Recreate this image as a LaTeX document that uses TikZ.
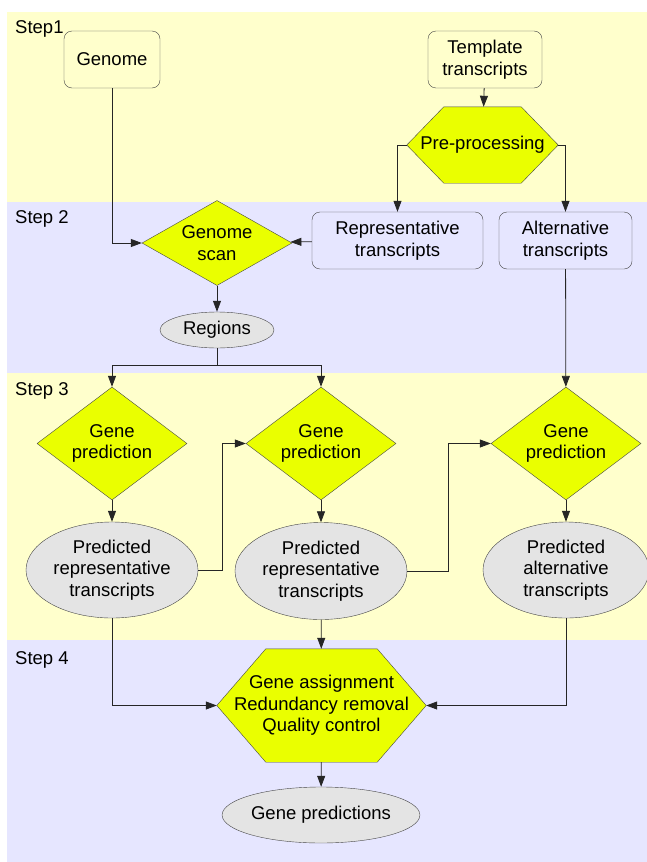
\documentclass[tikz,border=0pt]{standalone}
\usepackage{fontspec}
\setmainfont{Liberation Sans}
\usetikzlibrary{arrows.meta,%
                shapes.geometric}
\pgfdeclarelayer{bands}
\pgfdeclarelayer{shade}
\pgfsetlayers{bands,shade,main}
\definecolor{stepyellow}{RGB}{255,255,204}
\definecolor{steplilac}{RGB}{230,230,255}
\definecolor{actyellow}{RGB}{234,255,0}
\definecolor{datagrey}{RGB}{228,228,228}
\definecolor{edgegrey}{RGB}{70,70,70}
% hexagon behind a named node: \hexagon{node}{slant}
\newcommand{\hexagon}[2]{%
  \begin{pgfonlayer}{shade}
    \filldraw[draw=edgegrey,fill=actyellow] (#1.west) -- ([xshift=#2]#1.north west)
      -- ([xshift=-#2]#1.north east) -- (#1.east)
      -- ([xshift=-#2]#1.south east) -- ([xshift=#2]#1.south west) -- cycle;
  \end{pgfonlayer}}

\begin{document}
\begin{tikzpicture}[x=1pt,y=-1pt,font=\fontsize{18.5}{21.5}\selectfont]
  \tikzstyle{StepStyle}=[anchor=base west,inner sep=0pt]
  \tikzstyle{BoxStyle}=[draw=edgegrey,rounded corners=8pt,align=center,inner sep=0pt,minimum height=57pt]
  \tikzstyle{TestStyle}=[diamond,draw=edgegrey,fill=actyellow,align=center,inner sep=0pt,minimum width=150pt]
  \tikzstyle{HexStyle}=[rectangle,align=center,inner sep=0pt]
  \tikzstyle{DataStyle}=[ellipse,draw=edgegrey,fill=datagrey,align=center,inner sep=0pt]
  \tikzstyle{EdgeStyle}=[draw=black!85,line width=0.8pt,-{Triangle[length=11pt,width=8pt]}]
  \useasboundingbox (0,0) rectangle (647,862);
% bands
  \begin{pgfonlayer}{bands}
    \fill[stepyellow] (7,12) rectangle (647,202);
    \fill[steplilac] (7,202) rectangle (647,373);
    \fill[stepyellow] (7,373) rectangle (647,640);
    \fill[steplilac] (7,640) rectangle (647,862);
  \end{pgfonlayer}
  \node[StepStyle] (s1) at (15,33) {Step1};
  \node[StepStyle] (s2) at (15,223) {Step 2};
  \node[StepStyle] (s3) at (15,395) {Step 3};
  \node[StepStyle] (s4) at (15,664) {Step 4};
% step 1
  \node[BoxStyle,minimum width=96pt] (genome) at (112,59.5) {Genome};
  \node[BoxStyle,minimum width=114pt] (template) at (485,59.5) {Template\\transcripts};
  \node[HexStyle,minimum width=151pt,minimum height=76pt] (prep) at (482.5,145) {Pre-processing};
  \hexagon{prep}{37pt}
% step 2
  \node[BoxStyle,minimum width=171pt] (rep) at (397.5,240.5) {Representative\\transcripts};
  \node[BoxStyle,minimum width=133pt] (alt) at (565.5,240.5) {Alternative\\transcripts};
  \node[TestStyle,aspect=1.76,minimum height=85pt] (scan) at (217,243) {Genome\\scan};
  \node[DataStyle,minimum width=114pt,minimum height=36pt] (regions) at (217,330) {Regions};
  \coordinate (split) at (217,365);
% step 3
  \node[TestStyle,aspect=1.33,minimum height=113pt] (gp1) at (112,443.5) {Gene\\prediction};
  \node[TestStyle,aspect=1.33,minimum height=113pt] (gp2) at (321,443.5) {Gene\\prediction};
  \node[TestStyle,aspect=1.33,minimum height=113pt] (gp3) at (566,443.5) {Gene\\prediction};
  \node[DataStyle,minimum width=172pt,minimum height=96pt] (prt1) at (112,570) {Predicted\\representative\\transcripts};
  \node[DataStyle,minimum width=172pt,minimum height=97pt] (prt2) at (321,571) {Predicted\\representative\\transcripts};
  \node[DataStyle,minimum width=166pt,minimum height=96pt] (pat) at (566,570) {Predicted\\alternative\\transcripts};
% step 4
  \node[HexStyle,minimum width=209pt,minimum height=113pt] (final) at (321.5,705.5) {Gene assignment\\Redundancy removal\\Quality control};
  \hexagon{final}{49pt}
  \node[DataStyle,minimum width=172pt,minimum height=56pt] (genepred) at (321,815) {Gene predictions};
% edges
  \draw[EdgeStyle] (genome) |- (scan);
  \draw[EdgeStyle] (template) -- (prep);
  \draw[EdgeStyle] (prep.west) -| (rep);
  \draw[EdgeStyle] (prep.east) -| (alt);
  \draw[EdgeStyle] (rep) -- (scan);
  \draw[EdgeStyle] (scan) -- (regions);
  \draw[EdgeStyle,-] (regions) -- (split);
  \draw[EdgeStyle] (split) -| (gp1);
  \draw[EdgeStyle] (split) -| (gp2);
  \draw[EdgeStyle] (alt) -- (gp3);
  \draw[EdgeStyle] (gp1) -- (prt1);
  \draw[EdgeStyle] (gp2) -- (prt2);
  \draw[EdgeStyle] (gp3) -- (pat);
  \draw[EdgeStyle] (prt1.east) -- ++(24,0) |- (gp2);
  \draw[EdgeStyle] (prt2.east) -- ++(41,0) |- (gp3);
  \draw[EdgeStyle] (prt1) |- (final);
  \draw[EdgeStyle] (pat) |- (final);
  \draw[EdgeStyle] (prt2) -- (final);
  \draw[EdgeStyle] (final) -- (genepred);
\end{tikzpicture}
\end{document}
